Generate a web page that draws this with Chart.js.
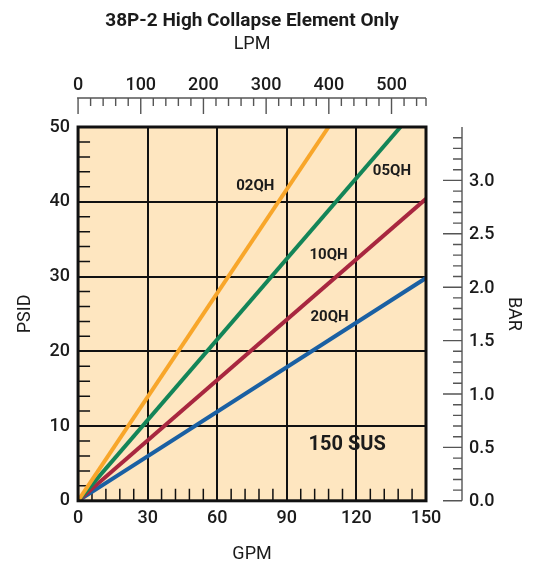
<!DOCTYPE html>
<html lang="en">
<head>
<meta charset="UTF-8">
<title>38P-2 High Collapse Element Only</title>
<script src="https://cdn.jsdelivr.net/npm/chart.js"></script>
<style>
  body { margin: 0; background: #ffffff; }
  #wrap { width: 541px; height: 565px; }
</style>
</head>
<body>
<div id="wrap"><canvas id="grafico"></canvas></div>
<script>
// valores
const seriesNames = ['02QH', '05QH', '10QH', '20QH'];
const seriesGpm = [[0, 108], [0, 139], [0, 150], [0, 150]];
const seriesPsid = [[0, 50], [0, 50], [0, 40.4], [0, 29.8]];
const seriesColors = ['#f8a62a', '#138558', '#a8273f', '#1a60a3'];

const gpmTicks = [0, 30, 60, 90, 120, 150];
const psidTicks = [0, 10, 20, 30, 40, 50];
const lpmTicks = [0, 100, 200, 300, 400, 500];
const barTicks = ['0.0', '0.5', '1.0', '1.5', '2.0', '2.5', '3.0'];

const noteText = ['02QH', '05QH', '10QH', '20QH', '150 SUS'];
const noteGpm = [76.4, 135.3, 108, 108.4, 116];
const notePsid = [42.1, 44.1, 32.8, 24.6, 7.4];

const FONT = 'Roboto, "Liberation Sans", sans-serif';
const INK = '#1b1b1b';

// fondo, marcas cortas, marco, notas y los ejes desplazados (LPM arriba, BAR a la derecha)
const extras = {
    id: 'extras',
    beforeDraw(chart) {
        const { ctx, chartArea: a } = chart;
        ctx.save();
        ctx.fillStyle = '#fee6c0';
        ctx.fillRect(a.left, a.top, a.width, a.height);
        ctx.restore();
    },
    beforeDatasetsDraw(chart) {
        const { ctx, chartArea: a, scales: { x, y } } = chart;
        ctx.save();
        ctx.strokeStyle = '#111';
        ctx.lineWidth = 1.5;
        ctx.beginPath();
        for (let g = 6; g < 150; g += 6) {
            if (g % 30 === 0) continue;
            const px = x.getPixelForValue(g);
            ctx.moveTo(px, a.bottom);
            ctx.lineTo(px, a.bottom - 12);
        }
        for (let p = 2; p < 50; p += 2) {
            if (p % 10 === 0) continue;
            const py = y.getPixelForValue(p);
            ctx.moveTo(a.left, py);
            ctx.lineTo(a.left + 12, py);
        }
        ctx.stroke();
        ctx.restore();
    },
    afterDatasetsDraw(chart) {
        const { ctx, chartArea: a, scales: { x, y } } = chart;
        ctx.save();
        ctx.strokeStyle = '#111';
        ctx.lineWidth = 3;
        ctx.strokeRect(a.left, a.top, a.width, a.height);

        ctx.fillStyle = INK;
        ctx.textAlign = 'center';
        ctx.textBaseline = 'middle';
        noteText.forEach((t, i) => {
            ctx.font = (i === 4 ? 'bold 20px ' : 'bold 15px ') + FONT;
            ctx.fillText(t, x.getPixelForValue(noteGpm[i]), y.getPixelForValue(notePsid[i]));
        });
        ctx.restore();
    },
    afterDraw(chart) {
        const { ctx, chartArea: a, scales: { lpm, bar } } = chart;
        ctx.save();
        ctx.strokeStyle = '#555';
        ctx.lineWidth = 1.4;
        ctx.fillStyle = INK;
        ctx.font = '500 18px ' + FONT;

        // eje LPM
        const yTop = a.top - 29;
        ctx.beginPath();
        ctx.moveTo(lpm.getPixelForValue(0) - 1, yTop);
        ctx.lineTo(lpm.getPixelForValue(lpm.max), yTop);
        for (let v = 0; v <= 540; v += 20) {
            const px = lpm.getPixelForValue(v);
            ctx.moveTo(px, yTop);
            ctx.lineTo(px, yTop + (v % 100 === 0 ? 16 : 8));
        }
        const pEnd = lpm.getPixelForValue(lpm.max);
        ctx.moveTo(pEnd, yTop);
        ctx.lineTo(pEnd, yTop + 8);
        ctx.stroke();
        ctx.textAlign = 'center';
        ctx.textBaseline = 'middle';
        lpmTicks.forEach(v => ctx.fillText(String(v), lpm.getPixelForValue(v), yTop - 13));

        // eje BAR
        const xR = a.right + 36;
        ctx.beginPath();
        ctx.moveTo(xR, bar.getPixelForValue(0));
        ctx.lineTo(xR, bar.getPixelForValue(bar.max));
        for (let i = 0; i <= 34; i++) {
            const py = bar.getPixelForValue(i / 10);
            ctx.moveTo(xR, py);
            ctx.lineTo(xR - (i % 5 === 0 ? 19 : 9), py);
        }
        ctx.stroke();
        ctx.textAlign = 'left';
        barTicks.forEach(t => ctx.fillText(t, xR + 7, bar.getPixelForValue(parseFloat(t)) + 1));

        ctx.font = '18px ' + FONT;
        ctx.translate(a.right + 87, (a.top + a.bottom) / 2);
        ctx.rotate(Math.PI / 2);
        ctx.textAlign = 'center';
        ctx.fillText('BAR', 0, 0);
        ctx.restore();
    }
};

const tickFont = { family: FONT, size: 18, weight: '500' };

const ctx = document.getElementById('grafico').getContext('2d');
const grafico = new Chart(ctx, {
    type: 'scatter',
    data: {
        datasets: seriesNames.map((n, i) => ({
            label: n,
            data: seriesGpm[i].map((g, j) => ({ x: g, y: seriesPsid[i][j] })),
            showLine: true,
            borderColor: seriesColors[i],
            backgroundColor: seriesColors[i],
            borderWidth: 4,
            pointRadius: 0,
            borderCapStyle: 'butt'
        }))
    },
    options: {
        responsive: true,
        maintainAspectRatio: false,
        animation: false,
        layout: { padding: { left: 15, right: 115, top: 0, bottom: 0 } },
        plugins: {
            legend: { display: false },
            tooltip: { enabled: false },
            title: {
                display: true,
                fullSize: false,
                text: '38P-2 High Collapse Element Only',
                color: INK,
                font: { family: FONT, size: 19, weight: 'bold' },
                padding: { top: 10, bottom: 1 }
            },
            subtitle: {
                display: true,
                fullSize: false,
                text: 'LPM',
                color: INK,
                font: { family: FONT, size: 18 },
                padding: { top: 0, bottom: 71.6 }
            }
        },
        scales: {
            x: {
                type: 'linear',
                position: 'bottom',
                min: 0,
                max: 150,
                afterBuildTicks: s => { s.ticks = gpmTicks.map(v => ({ value: v })); },
                ticks: { color: INK, font: tickFont, padding: 7 },
                grid: { color: '#111', lineWidth: 2, drawTicks: false },
                border: { display: false },
                title: { display: true, text: 'GPM', color: INK, font: { family: FONT, size: 18 }, padding: { top: 7, bottom: 0 } }
            },
            y: {
                type: 'linear',
                position: 'left',
                min: 0,
                max: 50,
                afterBuildTicks: s => { s.ticks = psidTicks.map(v => ({ value: v })); },
                ticks: { color: INK, font: tickFont, padding: 8 },
                grid: { color: '#111', lineWidth: 2, drawTicks: false },
                border: { display: false },
                title: { display: true, text: 'PSID', color: INK, font: { family: FONT, size: 18 }, padding: { top: 0, bottom: 5 } }
            },
            lpm: { type: 'linear', position: 'top', min: 0, max: 555, display: false },
            bar: { type: 'linear', position: 'right', min: 0, max: 3.5, display: false }
        }
    },
    plugins: [extras]
});
</script>
</body>
</html>
